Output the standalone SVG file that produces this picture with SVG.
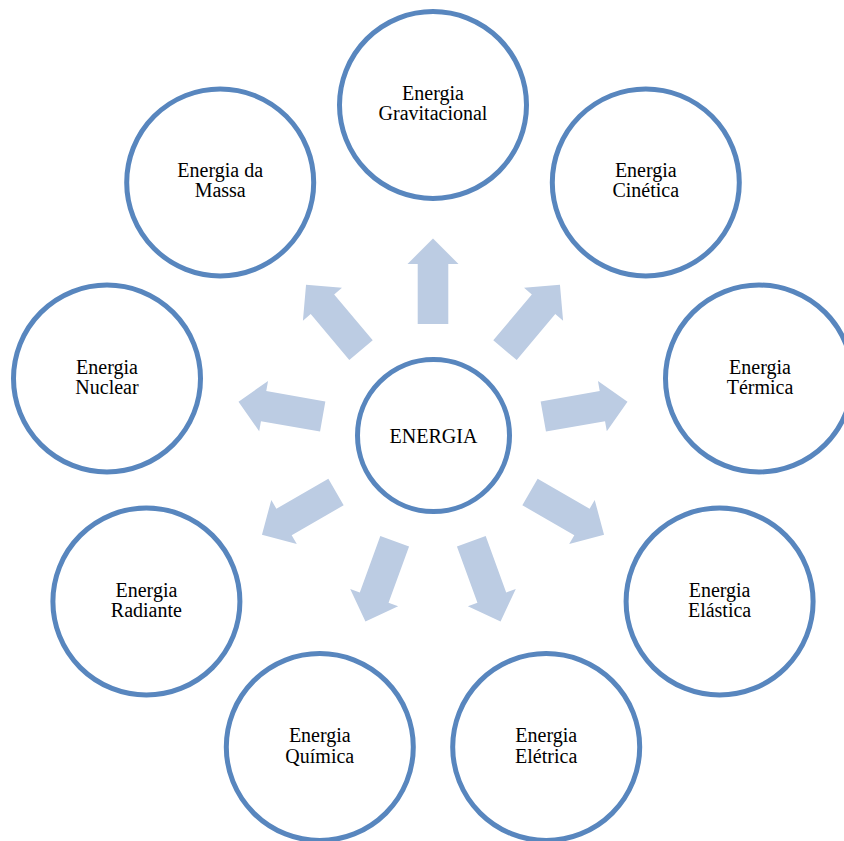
<svg xmlns="http://www.w3.org/2000/svg" width="844" height="841" viewBox="0 0 844 841">
<defs>
<style>
.n{fill:#ffffff;stroke:#5886BE;stroke-width:5}
.t{font-family:"Liberation Serif","Times New Roman",serif;font-size:20px;fill:#000;text-anchor:middle}
.a{fill:#BCCCE3}
</style>
<path id="arr" d="M-15.3,-112 L15.3,-112 L15.3,-172 L25.5,-172 L0,-197.5 L-25.5,-172 L-15.3,-172 Z"/>
</defs>
<rect width="844" height="841" fill="#ffffff"/>
<g id="connectors" class="a" transform="translate(433,436)">
<use href="#arr" transform="rotate(0)"/>
<use href="#arr" transform="rotate(40)"/>
<use href="#arr" transform="rotate(80)"/>
<use href="#arr" transform="rotate(120)"/>
<use href="#arr" transform="rotate(160)"/>
<use href="#arr" transform="rotate(200)"/>
<use href="#arr" transform="rotate(240)"/>
<use href="#arr" transform="rotate(280)"/>
<use href="#arr" transform="rotate(320)"/>
</g>
<g id="energia"><circle class="n" cx="433.5" cy="435.5" r="76"/><text class="t" x="433.5" y="443">ENERGIA</text></g>
<g id="gravitacional"><circle class="n" cx="433" cy="105" r="93.5"/><text class="t" x="433" y="100">Energia</text><text class="t" x="433" y="120">Gravitacional</text></g>
<g id="cinetica"><circle class="n" cx="645.8" cy="182.4" r="93.5"/><text class="t" x="645.8" y="177.4">Energia</text><text class="t" x="645.8" y="197.4">Cinética</text></g>
<g id="termica"><circle class="n" cx="759" cy="378.5" r="93.5"/><text class="t" x="760" y="373.5">Energia</text><text class="t" x="760" y="394">Térmica</text></g>
<g id="elastica"><circle class="n" cx="719.6" cy="601.5" r="93.5"/><text class="t" x="719.6" y="596.5">Energia</text><text class="t" x="719.6" y="617">Elástica</text></g>
<g id="eletrica"><circle class="n" cx="546.2" cy="747" r="93.5"/><text class="t" x="546.2" y="742.3">Energia</text><text class="t" x="546.2" y="762.5">Elétrica</text></g>
<g id="quimica"><circle class="n" cx="319.8" cy="747" r="93.5"/><text class="t" x="319.8" y="742.3">Energia</text><text class="t" x="319.8" y="762.5">Química</text></g>
<g id="radiante"><circle class="n" cx="146.4" cy="601.5" r="93.5"/><text class="t" x="146.4" y="596.5">Energia</text><text class="t" x="146.4" y="617">Radiante</text></g>
<g id="nuclear"><circle class="n" cx="107" cy="378.5" r="93.5"/><text class="t" x="107" y="373.5">Energia</text><text class="t" x="107" y="394">Nuclear</text></g>
<g id="massa"><circle class="n" cx="220.2" cy="182.4" r="93.5"/><text class="t" x="220.2" y="177.4">Energia da</text><text class="t" x="220.2" y="197.4">Massa</text></g>
</svg>
